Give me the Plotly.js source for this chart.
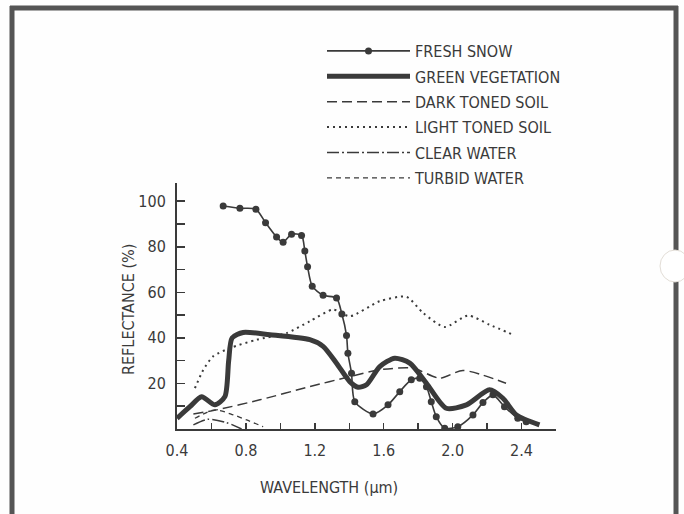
<!DOCTYPE html>
<html>
<head>
<meta charset="utf-8">
<script src="https://cdn.plot.ly/plotly-3.0.1.min.js"></script>
<style>html,body{margin:0;padding:0;background:#fefefe;}#chart{width:684px;height:514px;}</style>
</head>
<body>
<div id="chart"></div>
<script>
// ---- data ----
var snowX = [0.668, 0.765, 0.858, 0.914, 0.978, 1.016, 1.065, 1.123, 1.142, 1.158, 1.185, 1.248, 1.326, 1.357, 1.384, 1.392, 1.413, 1.432, 1.538, 1.625, 1.693, 1.76, 1.809, 1.848, 1.876, 1.905, 1.954, 2.03, 2.118, 2.176, 2.234, 2.301, 2.378, 2.427];
var snowY = [97.9, 96.9, 96.5, 90.6, 84.3, 82.0, 85.5, 85.0, 78.1, 71.2, 62.7, 58.7, 57.5, 50.5, 41.1, 33.3, 24.5, 12.0, 6.6, 10.6, 16.4, 21.6, 22.3, 18.6, 12.0, 5.4, 0.3, 1.0, 6.2, 11.6, 15.0, 9.8, 4.7, 3.2];

var vegX = [0.4, 0.475, 0.543, 0.62, 0.678, 0.70, 0.72, 0.784, 0.939, 1.171, 1.248, 1.326, 1.403, 1.451, 1.5, 1.577, 1.664, 1.751, 1.848, 1.963, 2.08, 2.214, 2.292, 2.37, 2.504];
var vegY = [4.7, 9.8, 14.2, 10.6, 14.2, 30.0, 40.0, 42.4, 41.4, 39.2, 36.3, 28.9, 20.8, 18.3, 19.4, 27.4, 31.1, 28.9, 20.1, 9.1, 10.6, 17.2, 13.5, 6.2, 1.8];

var darkSoilX = [0.495, 0.63, 0.881, 1.171, 1.403, 1.577, 1.77, 1.925, 2.06, 2.31];
var darkSoilY = [6.6, 8.4, 12.8, 18.6, 23.0, 26.0, 26.7, 22.3, 25.7, 20.1];

var lightSoilX = [0.504, 0.553, 0.61, 0.707, 0.862, 1.036, 1.171, 1.306, 1.403, 1.577, 1.732, 1.828, 1.954, 2.089, 2.214, 2.36];
var lightSoilY = [17.9, 26.0, 31.9, 35.5, 39.2, 42.1, 47.3, 52.4, 49.5, 56.1, 58.0, 51.0, 44.8, 49.8, 45.8, 41.1];

var clearWaterX = [0.495, 0.582, 0.688, 0.775];
var clearWaterY = [1.8, 4.3, 2.8, 0.0];

var turbidWaterX = [0.504, 0.62, 0.727, 0.804, 0.9];
var turbidWaterY = [4.7, 8.4, 6.2, 4.0, 1.0];

var seriesNames = ["FRESH SNOW", "GREEN VEGETATION", "DARK TONED SOIL", "LIGHT TONED SOIL", "CLEAR WATER", "TURBID WATER"];

var xTickVals = [0.4, 0.6, 0.8, 1.0, 1.2, 1.4, 1.6, 1.8, 2.0, 2.2, 2.4, 2.6];
var xTickText = ["0.4", "", "0.8", "", "1.2", "", "1.6", "", "2.0", "", "2.4", ""];
var yTickVals = [0, 10, 20, 30, 40, 50, 60, 70, 80, 90, 100];
var yTickText = ["", "", "20", "", "40", "", "60", "", "80", "", "100"];

var xTitle = "WAVELENGTH (µm)";
var yTitle = "REFLECTANCE (%)";

// ---- styling ----
var ink = "#3a3a3a";
var FONT = "DejaVu Sans Condensed, Liberation Sans Narrow, Roboto, sans-serif";

function tr(x, y, name, i, line, extra) {
  var t = {x: x, y: y, name: name, type: "scatter", mode: "lines",
    line: Object.assign({color: ink, shape: "spline", smoothing: 0.7}, line),
    legendgroup: "g" + i, hoverinfo: "skip"};
  return Object.assign(t, extra || {});
}

var data = [
  tr(snowX, snowY, seriesNames[0], 0, {width: 1.6}, {mode: "lines+markers", marker: {size: 7, color: ink}}),
  tr(vegX, vegY, seriesNames[1], 1, {width: 5}),
  tr(darkSoilX, darkSoilY, seriesNames[2], 2, {width: 1.5, dash: "10px,5px"}),
  tr(lightSoilX, lightSoilY, seriesNames[3], 3, {width: 2, dash: "2px,4px"}),
  tr(clearWaterX, clearWaterY, seriesNames[4], 4, {width: 1.5, dash: "12px,3px,2px,3px"}),
  tr(turbidWaterX, turbidWaterY, seriesNames[5], 5, {width: 1.3, dash: "5px,4px"})
];

// plot area: x 177..556 px, y 183..429 px
function px(p) { return (p - 177) / 379; }
function py(p) { return (429 - p) / 246; }

var layout = {
  width: 684, height: 514,
  margin: {l: 177, r: 128, t: 183, b: 85},
  paper_bgcolor: "#fefefe", plot_bgcolor: "#fefefe",
  font: {family: FONT, color: ink, size: 16},
  showlegend: true,
  legend: {x: px(322), y: py(34), xanchor: "left", yanchor: "top",
    bgcolor: "rgba(0,0,0,0)", font: {size: 16, family: FONT, color: ink},
    itemwidth: 83, traceorder: "grouped", tracegroupgap: 1.6, itemclick: false},
  xaxis: {range: [0.4, 2.6], showline: true, linewidth: 2, linecolor: ink,
    showgrid: false, zeroline: false, ticks: "inside", ticklen: 6, tickwidth: 1.5, tickcolor: ink,
    tickmode: "array", tickvals: xTickVals, ticktext: xTickText,
    tickfont: {size: 16, family: FONT, color: ink}, ticklabelstandoff: 6},
  yaxis: {range: [0, 108], showline: true, linewidth: 2, linecolor: ink,
    showgrid: false, zeroline: false, ticks: "inside", ticklen: 8, tickwidth: 1.5, tickcolor: ink,
    tickmode: "array", tickvals: yTickVals, ticktext: yTickText,
    tickfont: {size: 16, family: FONT, color: ink}, ticklabelstandoff: 6},
  annotations: [
    {text: xTitle, xref: "paper", yref: "paper", x: px(328.5), y: py(487), showarrow: false,
      xanchor: "center", yanchor: "middle", font: {size: 16, family: FONT, color: ink}},
    {text: yTitle, xref: "paper", yref: "paper", x: px(128), y: py(310), showarrow: false,
      textangle: -90, xanchor: "center", yanchor: "middle", font: {size: 16, family: FONT, color: ink}}
  ],
  shapes: [
    {type: "line", xref: "paper", yref: "paper", x0: px(12), x1: px(12), y0: py(6), y1: py(520), line: {color: "#555", width: 5}},
    {type: "line", xref: "paper", yref: "paper", x0: px(10), x1: px(678), y0: py(8), y1: py(8), line: {color: "#555", width: 5}},
    {type: "line", xref: "paper", yref: "paper", x0: px(676), x1: px(676), y0: py(6), y1: py(520), line: {color: "#555", width: 5}},
    {type: "circle", xref: "paper", yref: "paper", x0: px(660), x1: px(690), y0: py(250), y1: py(282), fillcolor: "#ffffff", line: {color: "#e2ddd6", width: 1}}
  ]
};

Plotly.newPlot("chart", data, layout, {displayModeBar: false, staticPlot: true});
</script>
</body>
</html>
